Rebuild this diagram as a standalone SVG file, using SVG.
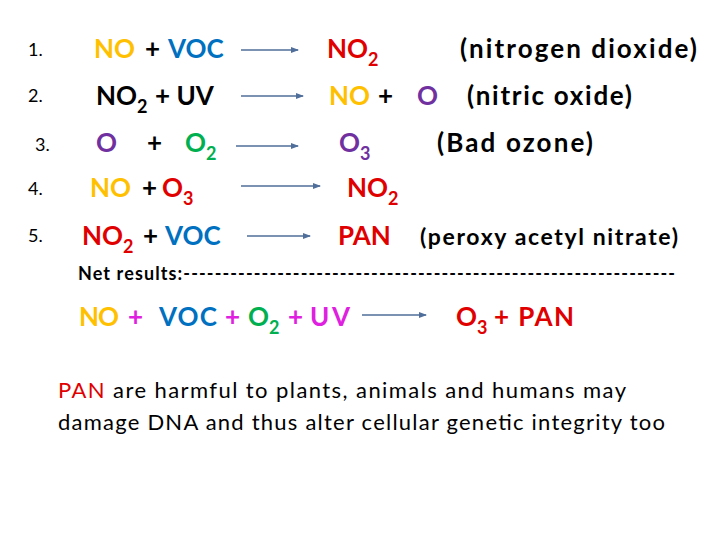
<svg xmlns="http://www.w3.org/2000/svg" width="720" height="540" viewBox="0 0 720 540">
<style>
text{font-family:Lato,"Open Sans",sans-serif;font-weight:bold;font-size:26px;fill:#000}
.n{font-weight:normal;font-size:18px}
.y{fill:#FFC000}.b{fill:#0070C0}.r{fill:#E00000}.p{fill:#7030A0}.g{fill:#00B050}.m{fill:#E020E0}
.s{font-size:18px}
.c{stroke:#4F6E9A;stroke-width:1.5;fill:none;marker-end:url(#a)}
</style>
<defs><marker id="a" markerWidth="8" markerHeight="6" refX="7" refY="3" orient="auto" markerUnits="userSpaceOnUse"><path d="M0,0L8,3L0,6z" fill="#4F6E9A"/></marker></defs>
<rect width="720" height="540" fill="#fff"/>
<g id="numbers">
<text class="n" x="28" y="56">1.</text><text class="n" x="28" y="102">2.</text><text class="n" x="35" y="151">3.</text><text class="n" x="28" y="195">4.</text><text class="n" x="28" y="242">5.</text>
</g>
<g id="r1"><text x="94" y="58"><tspan class="y">NO</tspan><tspan x="145">+</tspan><tspan class="b" x="168">VOC</tspan></text>
<text x="327" y="58" class="r">NO<tspan class="s" dy="8">2</tspan></text>
<text x="460" y="58" textLength="237">(nitrogen dioxide)</text></g>
<g id="r2"><text x="96" y="105">NO<tspan class="s" dy="8">2</tspan><tspan dy="-8" x="155">+ UV</tspan></text>
<text x="329" y="105"><tspan class="y">NO</tspan><tspan x="378">+</tspan><tspan class="p" x="417">O</tspan></text>
<text x="467" y="105" textLength="165">(nitric oxide)</text></g>
<g id="r3"><text x="96" y="152"><tspan class="p">O</tspan><tspan x="147">+</tspan><tspan class="g" x="185">O</tspan><tspan class="g s" dy="8">2</tspan></text>
<text x="339" y="152" class="p">O<tspan class="s" dy="8">3</tspan></text>
<text x="437" y="152" textLength="156">(Bad ozone)</text></g>
<g id="r4"><text x="90" y="197"><tspan class="y">NO</tspan><tspan x="142">+</tspan><tspan class="r" x="162">O</tspan><tspan class="r s" dy="8">3</tspan></text>
<text x="347" y="197" class="r">NO<tspan class="s" dy="8">2</tspan></text></g>
<g id="r5"><text x="82" y="245"><tspan class="r">NO</tspan><tspan class="r s" dy="8">2</tspan><tspan dy="-8" x="143">+</tspan><tspan class="b" x="165">VOC</tspan></text>
<text x="338" y="245" class="r">PAN</text>
<text x="420" y="245" style="font-size:23px" textLength="258">(peroxy acetyl nitrate)</text></g>
<g id="net"><text x="78" y="280" style="font-size:18px" textLength="597">Net results:---------------------------------------------------------------</text>
<text x="79" y="326"><tspan class="y" textLength="40">NO</tspan><tspan class="m" x="128">+</tspan><tspan class="b" x="159" textLength="58">VOC</tspan><tspan class="m" x="225">+</tspan><tspan class="g" x="248">O</tspan><tspan class="g s" dy="8">2</tspan><tspan class="m" dy="-8" x="288">+</tspan><tspan class="m" x="310" textLength="40">UV</tspan></text>
<text x="456" y="326" class="r">O<tspan class="s" dy="8">3</tspan><tspan dy="-8" x="494" textLength="80">+ PAN</tspan></text></g>
<g id="note">
<text x="58" y="398" style="font-size:22px;font-weight:normal" textLength="568"><tspan class="r">PAN</tspan> are harmful to plants, animals and humans may</text>
<text x="58" y="430" style="font-size:22px;font-weight:normal" textLength="607">damage DNA and thus alter cellular genetic integrity too</text></g>
<g id="connectors">
<line class="c" x1="241" y1="50" x2="298" y2="50"/><line class="c" x1="241" y1="96" x2="303" y2="96"/><line class="c" x1="236" y1="146" x2="298" y2="146"/><line class="c" x1="241" y1="186" x2="320" y2="186"/><line class="c" x1="247" y1="236" x2="310" y2="236"/><line class="c" x1="362" y1="315" x2="426" y2="315"/>
</g>
</svg>
